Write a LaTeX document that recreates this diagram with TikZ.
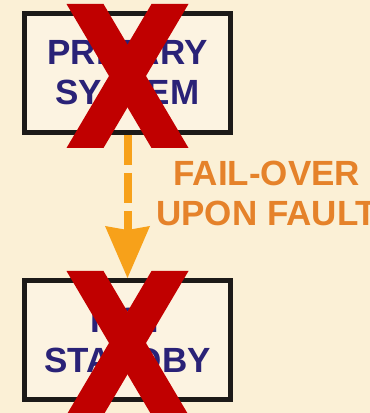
\documentclass[tikz,border=0pt]{standalone}
\usepackage{fontspec}
\setmainfont{Liberation Sans}
\usetikzlibrary{positioning,arrows.meta,calc}

\definecolor{paper}{HTML}{FBF0D6}
\definecolor{boxfill}{HTML}{FCF3E1}
\definecolor{boxline}{HTML}{1C1A18}
\definecolor{navy}{HTML}{2A2277}
\definecolor{failorange}{HTML}{E5822A}
\definecolor{arroworange}{HTML}{F7A11A}
\definecolor{crossred}{HTML}{C00000}

\begin{document}
\begin{tikzpicture}[
    x=0.75pt, y=0.75pt,
    sysbox/.style={draw=boxline, line width=3.75pt, fill=boxfill, minimum width=154.5pt, minimum height=89.25pt, inner sep=0pt, align=center, font=\fontsize{26.25}{30}\selectfont\bfseries, text=navy},
    failtext/.style={inner sep=0pt, align=center, font=\fontsize{26.25}{30}\selectfont\bfseries, text=failorange},
    failarrow/.style={-{Stealth[length=39pt, width=33.75pt, inset=3pt, line width=0pt]}, line width=6pt, draw=arroworange, dash pattern=on 22.5pt off 6pt},
    cross/.style={fill=crossred},
]

% Background
\useasboundingbox (0,0) rectangle (370,413);
\fill[paper] (0,0) rectangle (370,413);

% Systems
\node[sysbox] (primary) at (127.5,340) {PRIMARY\\SYSTEM};
\node[sysbox, below=107.25pt of primary] (standby) {HOT\\STANDBY};

% Fail-over
\draw[failarrow] (primary.south) -- (standby.north);
\node[failtext, anchor=west] (failover) at ($(primary.south)!.5!(standby.north) + (28.5,13)$) {FAIL-OVER\\UPON FAULT};

% Crossed out
\foreach \sys in {primary,standby} {
  \begin{scope}[shift={(\sys.center)}]
    \fill[cross] (-61,69) -- (-24,69) -- (61,-75) -- (24,-75) -- cycle;
    \fill[cross] (24,69) -- (61,69) -- (-24,-75) -- (-61,-75) -- cycle;
  \end{scope}
}

\end{tikzpicture}
\end{document}
